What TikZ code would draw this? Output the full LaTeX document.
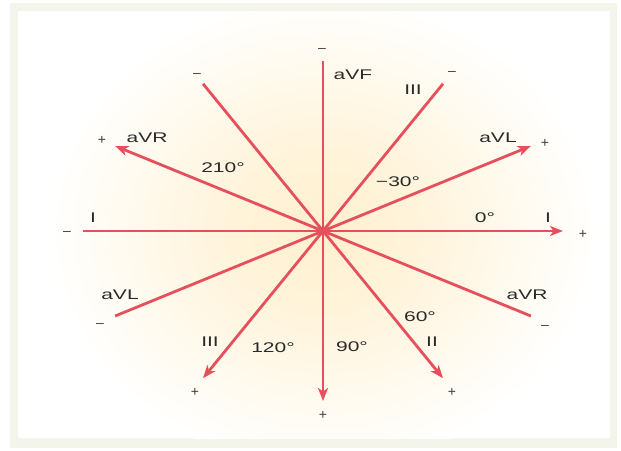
\documentclass[tikz,border=0pt]{standalone}
\usepackage{fontspec}
\setmainfont{Liberation Sans}
\usetikzlibrary{arrows.meta,calc}
\definecolor{lead}{HTML}{E5505C}
\definecolor{panel}{HTML}{F3F5EA}
\definecolor{txt}{HTML}{2A2A2A}
\definecolor{signc}{HTML}{404040}
\newcommand{\wide}[1]{\scalebox{1.5}[1]{#1}}
\pgfdeclareradialshading{glowshade}{\pgfpoint{0bp}{0bp}}{%
  rgb(0bp)=(1,0.94,0.81);rgb(9bp)=(1,0.955,0.86);rgb(17bp)=(1,0.98,0.93);
  rgb(25bp)=(1,1,1);rgb(50bp)=(1,1,1)}
\tikzset{
  axis/.style={draw=lead,line width=2.8pt},
  axisarr/.style={axis,-{Stealth[length=13pt,width=10pt,inset=3.5pt]}},
  lbl/.style={font=\fontsize{14}{16}\selectfont,text=txt,inner sep=0pt},
  sgn/.style={font=\fontsize{14}{16}\selectfont,text=signc,inner sep=0pt},
}
\begin{document}
\begin{tikzpicture}[x=1pt,y=-1pt]
  \useasboundingbox (0,0) rectangle (621,450);
  % panel and glow
  \fill[panel] (10,3) rectangle (617,448);
  \fill[white] (18,11) rectangle (610,438);
  \begin{scope}
    \clip (18,11) rectangle (610,438);
    \shade[shading=glowshade] (323,231) ellipse [x radius=275pt, y radius=235pt];
  \end{scope}
  % axes
  \coordinate (o) at (323,231);
  \foreach \n/\a in {Ip/0,Im/180,IIp/60,IIm/240,IIIp/120,IIIm/300,
                     aVRp/210,aVRm/30,aVLp/330,aVLm/150,aVFp/90,aVFm/270}
    \coordinate (\n) at ($(o)+({240*cos(\a)},{170*sin(\a)})$);
  \draw[axis] (o) -- (Im);
  \draw[axis] (o) -- (IIm);
  \draw[axis] (o) -- (IIIm);
  \draw[axis] (o) -- (aVRm);
  \draw[axis] (o) -- (aVLm);
  \draw[axis] (o) -- (aVFm);
  \draw[axisarr] (o) -- (Ip);
  \draw[axisarr] (o) -- (IIp);
  \draw[axisarr] (o) -- (IIIp);
  \draw[axisarr] (o) -- (aVRp);
  \draw[axisarr] (o) -- (aVLp);
  \draw[axisarr] (o) -- (aVFp);
  \fill[lead] (o) circle (4.5pt);
  % lead names
  \node[lbl] (taVF) at (353,75) {\wide{aVF}};
  \node[lbl] (tIIIup) at (413,90) {\wide{III}};
  \node[lbl] (taVLup) at (498,138) {\wide{aVL}};
  \node[lbl] (tIr) at (548,218) {\wide{I}};
  \node[lbl] (taVRup) at (147,138) {\wide{aVR}};
  \node[lbl] (tIl) at (93,218) {\wide{I}};
  \node[lbl] (taVLlo) at (120,295) {\wide{aVL}};
  \node[lbl] (tIIIlo) at (210,342) {\wide{III}};
  \node[lbl] (taVRlo) at (527,295) {\wide{aVR}};
  \node[lbl] (tII) at (432,342) {\wide{II}};
  % angles
  \node[lbl] (dm30) at (398,182) {\wide{−30°}};
  \node[lbl] (d0) at (485,218) {\wide{0°}};
  \node[lbl] (d210) at (223,168) {\wide{210°}};
  \node[lbl] (d120) at (273,348) {\wide{120°}};
  \node[lbl] (d60) at (420,317) {\wide{60°}};
  \node[lbl] (d90) at (352,347) {\wide{90°}};
  % polarity
  \node[sgn] (sVFm) at (322,50) {–};
  \node[sgn] (sIIIm) at (452,73) {–};
  \node[sgn] (sIIm) at (197,75) {–};
  \node[sgn] (sIm) at (67,233) {–};
  \node[sgn] (sVLm) at (100,325) {–};
  \node[sgn] (sVRm) at (545,327) {–};
  \node[sgn] (sVLp) at (545,143) {+};
  \node[sgn] (sIp) at (583,234) {+};
  \node[sgn] (sVRp) at (102,140) {+};
  \node[sgn] (sIIIp) at (195,392) {+};
  \node[sgn] (sIIp) at (452,392) {+};
  \node[sgn] (sVFp) at (323,415) {+};
\end{tikzpicture}
\end{document}
